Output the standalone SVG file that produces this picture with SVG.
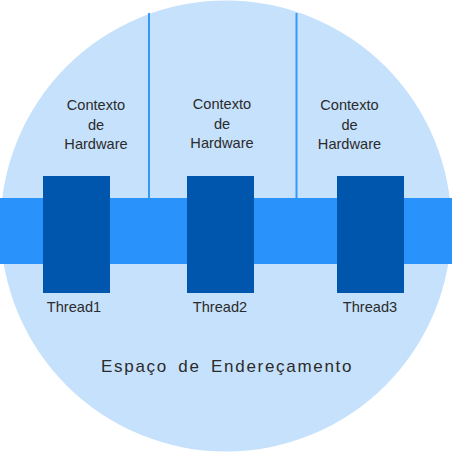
<svg xmlns="http://www.w3.org/2000/svg" width="452" height="452" viewBox="0 0 452 452">
<style>
.lbl{font-family:"Liberation Sans",Arial,sans-serif;font-size:14.6px;fill:#2b2b2b;text-anchor:middle}
.thr{fill:#0055ad}
.sep{stroke:#3598f8;stroke-width:2}
</style>
<rect width="452" height="452" fill="#fff"/>
<g id="address-space">
<circle cx="226" cy="226" r="225.5" fill="#c6e1fc"/>
<text x="101" y="372" style="font-family:'Liberation Sans',Arial,sans-serif;font-size:17px;fill:#2b2b2b;letter-spacing:1.7px;word-spacing:4px">Espaço de Endereçamento</text>
</g>
<g id="connectors">
<line class="sep" x1="149" y1="13" x2="149" y2="199"/>
<line class="sep" x1="296.5" y1="13" x2="296.5" y2="199"/>
</g>
<g id="band">
<rect x="0" y="198" width="452" height="66" fill="#2a93fb"/>
</g>
<g id="ctx1">
<text class="lbl" x="96" y="110">Contexto</text>
<text class="lbl" x="96" y="129.5">de</text>
<text class="lbl" x="96" y="149">Hardware</text>
</g>
<g id="ctx2">
<text class="lbl" x="222" y="109">Contexto</text>
<text class="lbl" x="222" y="128.5">de</text>
<text class="lbl" x="222" y="148">Hardware</text>
</g>
<g id="ctx3">
<text class="lbl" x="349.5" y="110">Contexto</text>
<text class="lbl" x="349.5" y="129.5">de</text>
<text class="lbl" x="349.5" y="149">Hardware</text>
</g>
<g id="thread1">
<rect class="thr" x="43" y="176" width="67" height="117"/>
<text class="lbl" x="74" y="312">Thread1</text>
</g>
<g id="thread2">
<rect class="thr" x="187" y="176" width="67" height="117"/>
<text class="lbl" x="220" y="312">Thread2</text>
</g>
<g id="thread3">
<rect class="thr" x="337" y="176" width="67" height="117"/>
<text class="lbl" x="370" y="312">Thread3</text>
</g>
</svg>
